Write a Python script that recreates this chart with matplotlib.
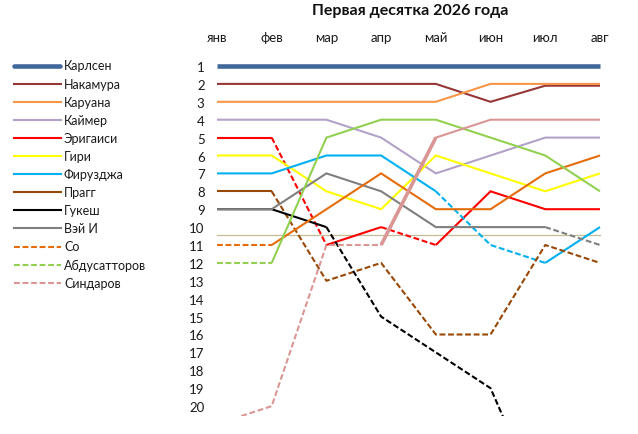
import matplotlib
matplotlib.use("Agg")
import matplotlib.pyplot as plt
from matplotlib.lines import Line2D
import numpy as np

plt.rcParams['font.family'] = ['Lato', 'DejaVu Sans']

months = ["янв", "фев", "мар", "апр", "май", "июн", "июл", "авг"]
players = ["Карлсен", "Накамура", "Каруана", "Каймер", "Эригаиси", "Гири",
           "Фирузджа", "Прагг", "Гукеш", "Вэй И", "Со", "Абдусатторов", "Синдаров"]

carlsen      = [1, 1, 1, 1, 1, 1, 1, 1]
nakamura     = [2, 2, 2, 2, 2, 3, 2.1, 2.1]
caruana      = [3, 3, 3, 3, 3, 2, 2, 2]
keymer       = [4, 4, 4, 5, 7, 6, 5, 5]
erigaisi     = [5, 5, 11, 10, 11, 8, 9, 9]
giri         = [6, 6, 8, 9, 6, 7, 8, 7]
firouzja     = [7, 7, 6, 6, 8, 11, 12, 10]
praggnanandhaa = [8, 8, 13, 12, 16, 16, 11, 12]
gukesh       = [9, 9, 10, 15, 17, 19, 26, 26]
wei_yi       = [9, 9, 7, 8, 10, 10, 10, 11]
so           = [11, 11, 9, 7, 9, 9, 7, 6]
abdusattorov = [12, 12, 5, 4, 4, 5, 6, 8]
sindarov     = [21, 20, 11, 11, 5, 4, 4, 4]

series = [carlsen, nakamura, caruana, keymer, erigaisi, giri, firouzja,
          praggnanandhaa, gukesh, wei_yi, so, abdusattorov, sindarov]
colors = ["#41679B", "#953735", "#F79646", "#B3A2C7", "#FF0000", "#FFFF00",
          "#00B0F0", "#984807", "#000000", "#7F7F7F", "#E46C0A", "#92D050", "#D99694"]
legend_dashed = [False] * 10 + [True] * 3
top_cut = 10.45
ranks = list(range(1, 21))

W, H = 638, 435
fig = plt.figure(figsize=(W / 100, H / 100), dpi=100)

# axes geometry in pixels
x0_px, dx_px = 217.0, 54.71
y1_px, dy_px = 67.0, 17.9
xl = (-0.1, 7.1)
yl = (20.55, 0.0)
left = x0_px + xl[0] * dx_px
right = x0_px + xl[1] * dx_px
top = y1_px + (yl[1] - 1) * dy_px
bottom = y1_px + (yl[0] - 1) * dy_px
ax = fig.add_axes([left / W, 1 - bottom / H, (right - left) / W, (bottom - top) / H])
ax.set_xlim(*xl)
ax.set_ylim(*yl)
for s in ax.spines.values():
    s.set_visible(False)

x = np.arange(len(months))
ax.plot([x[0], x[-1]], [top_cut, top_cut], color="#C4BD97", lw=0.9, zorder=1)

base_lw = 1.5
dash = (2.8, 1.3)
for i, (vals, c) in enumerate(zip(series, colors)):
    vals = np.array(vals, dtype=float)
    lw = 3.3 if i == 0 else base_lw
    # group segments: dashed if segment ends outside top ten
    styles = [vals[k + 1] > 10 for k in range(len(vals) - 1)]
    k = 0
    while k < len(styles):
        j = k
        while j + 1 < len(styles) and styles[j + 1] == styles[k]:
            j += 1
        xs = x[k:j + 2]
        ys = vals[k:j + 2]
        if styles[k]:
            ax.plot(xs, ys, color=c, lw=lw, dashes=dash, zorder=2 + i,
                    solid_joinstyle='miter', dash_capstyle='butt')
        else:
            ax.plot(xs, ys, color=c, lw=lw, zorder=2 + i,
                    solid_joinstyle='miter', solid_capstyle='butt')
        k = j + 1
    if players[i] == "Синдаров":
        # thicker rising segment apr -> may
        ax.plot(x[3:5], vals[3:5], color=c, lw=2.6, zorder=2 + i, solid_capstyle='butt')

ax.set_xticks(x)
ax.set_xticklabels(months, fontsize=9.5, color="#1a1a1a")
ax.xaxis.tick_top()
ax.tick_params(axis='x', length=0, pad=3.5)
ax.set_yticks(ranks)
ax.set_yticklabels([str(r) for r in ranks], fontsize=9.5, color="#1a1a1a")
ax.tick_params(axis='y', length=0, pad=5)

fig.text(410 / W, 1 - 11 / H, "Первая десятка 2026 года", ha='center', va='center',
         fontsize=11.5, fontweight='bold', color="#111111")

# legend
for i, (name, c) in enumerate(zip(players, colors)):
    yp = 66.5 + i * 18.1
    yf = 1 - yp / H
    if i == 0:
        ln = Line2D([14 / W, 60 / W], [yf, yf], transform=fig.transFigure, color=c,
                    lw=3.3, solid_capstyle='round')
    elif legend_dashed[i]:
        ln = Line2D([14 / W, 61 / W], [yf, yf], transform=fig.transFigure, color=c,
                    lw=base_lw, dashes=dash)
    else:
        ln = Line2D([14 / W, 61 / W], [yf, yf], transform=fig.transFigure, color=c,
                    lw=base_lw)
    fig.add_artist(ln)
    fig.text(64 / W, yf, name, ha='left', va='center', fontsize=9, color="#1a1a1a")

fig.savefig("out.png", dpi=100)
